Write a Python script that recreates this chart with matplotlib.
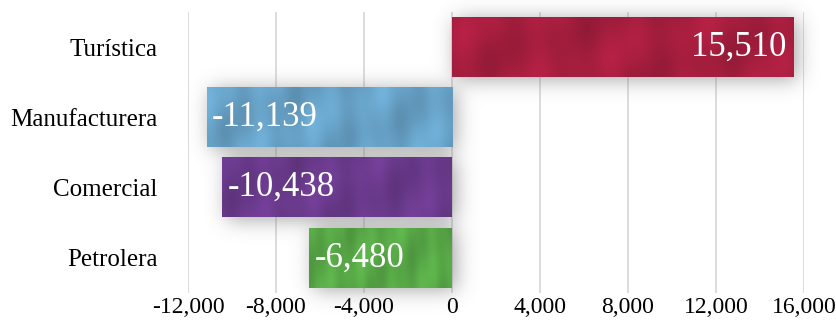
import numpy as np
import matplotlib
matplotlib.use("Agg")
import matplotlib.pyplot as plt
from matplotlib.colors import to_rgb

# Balance by sector
categories = ["Turística", "Manufacturera", "Comercial", "Petrolera"]
values = [15510, -11139, -10438, -6480]
bar_colors = ["#a51e3e", "#67a1c6", "#6a3a8c", "#58a847"]
xticks = [-12000, -8000, -4000, 0, 4000, 8000, 12000, 16000]
xticklabels = ["-12,000", "-8,000", "-4,000", "0", "4,000", "8,000", "12,000", "16,000"]

plt.rcParams["font.family"] = ["Liberation Serif", "DejaVu Serif"]

fig = plt.figure(figsize=(8.36, 3.2), dpi=100)
ax = fig.add_axes([188 / 836, 27 / 320, 616 / 836, 281 / 320])

xmin, xmax = -12000, 16000
ax.set_xlim(xmin, xmax)
ax.set_ylim(-0.5, len(categories) - 0.5)
ypos = np.arange(len(categories))[::-1]
bar_h = 0.85

# grid
ax.set_xticks(xticks)
ax.set_xticklabels(xticklabels, fontsize=17)
ax.grid(axis="x", color="#d9d9d9", linewidth=1.3, zorder=0)
ax.set_axisbelow(True)
ax.tick_params(axis="x", length=0, pad=3)
ax.set_yticks(ypos)
ax.set_yticklabels(categories, fontsize=18)
ax.tick_params(axis="y", length=0, pad=22)
for s in ax.spines.values():
    s.set_visible(False)

# soft drop shadow behind the bars (blurred mask)
pad_x, pad_y = 2500, 0.55
ex = (xmin - pad_x, xmax + pad_x, -0.5 - pad_y, len(categories) - 0.5 + pad_y)
nx, ny = 726, 358
gx = np.linspace(ex[0], ex[1], nx)
gy = np.linspace(ex[3], ex[2], ny)
X, Y = np.meshgrid(gx, gy)
mask = np.zeros((ny, nx))
off_x, off_y = 4 * 4000 / 88, -2 / 70
for y, v in zip(ypos, values):
    x0, x1 = min(0, v) + off_x, max(0, v) + off_x
    inside = (X >= x0) & (X <= x1) & (Y >= y - bar_h / 2 + off_y) & (Y <= y + bar_h / 2 + off_y)
    mask[inside] = 1.0
sig = 10.0
k = np.arange(-32, 33)
kern = np.exp(-0.5 * (k / sig) ** 2)
kern /= kern.sum()
blur = np.apply_along_axis(lambda r: np.convolve(r, kern, mode="same"), 1, mask)
blur = np.apply_along_axis(lambda c: np.convolve(c, kern, mode="same"), 0, blur)
shadow = np.zeros((ny, nx, 4))
shadow[..., :3] = 0.5
shadow[..., 3] = np.clip(blur, 0, 1) * 0.7
ax.imshow(shadow, extent=ex, aspect="auto", zorder=1, clip_on=False, interpolation="bilinear")

# bars with a soft streaky painted texture
for i, (y, v, c) in enumerate(zip(ypos, values, bar_colors)):
    x0, x1 = min(0, v), max(0, v)
    w, h = 300, 40
    u = np.linspace(0, 1, w)[None, :]
    t = np.linspace(0, 1, h)[:, None]
    streak = (0.05 * np.sin(2 * np.pi * (4.3 * u + 0.25 * t) + i)
              + 0.02 * np.sin(2 * np.pi * (9.7 * u - 0.3 * t) + 2 * i)
              + 0.04 * np.sin(2 * np.pi * (1.6 * u + 0.8 * t) + 0.5 * i))
    base = np.array(to_rgb(c))
    img = np.clip(base[None, None, :] * (1 + streak[..., None]), 0, 1)
    ax.imshow(img, extent=(x0, x1, y - bar_h / 2, y + bar_h / 2), aspect="auto",
              zorder=2, interpolation="bicubic")
    ax.barh(y, v, height=bar_h, color="none", edgecolor="none", zorder=2)
    if v >= 0:
        ax.text(v - 7 * 4000 / 88, y, f"{v:,}", ha="right", va="center",
                color="white", fontsize=25, zorder=3)
    else:
        ax.text(v + 5 * 4000 / 88, y, f"-{abs(v):,}", ha="left", va="center",
                color="white", fontsize=25, zorder=3)

ax.set_xlim(xmin, xmax)
ax.set_ylim(-0.5, len(categories) - 0.5)

fig.savefig("out.png", dpi=100)
